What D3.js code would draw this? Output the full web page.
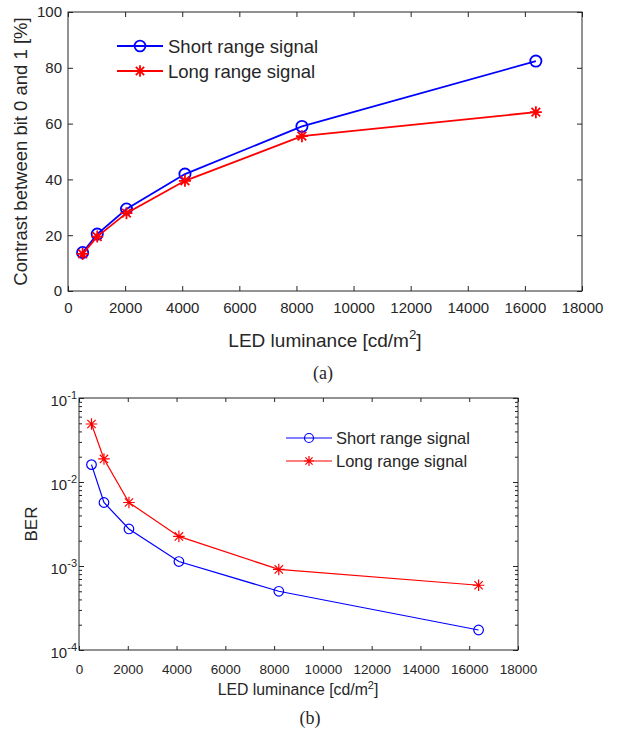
<!DOCTYPE html>
<html>
<head>
<meta charset="utf-8">
<script src="https://cdn.jsdelivr.net/npm/d3@7"></script>
<style>
  body { margin: 0; background: #fff; }
  svg text { font-family: "Liberation Sans", Arial, sans-serif; fill: #262626; }
</style>
</head>
<body>
<div id="drawer"></div>
<script>
// luminance steps (cd/m^2)
var luminance = [512, 1024, 2048, 4096, 8192, 16384];
// (a) contrast between bit 0 and 1 [%]
var contrastShort = [13.8, 20.4, 29.4, 41.9, 59.0, 82.4];
var contrastLong = [13.3, 19.5, 27.9, 39.5, 55.5, 64.1];
// (b) bit error rate
var berShort = [0.0161, 0.0057, 0.00276, 0.00113, 0.00050, 0.000173];
var berLong = [0.049, 0.0188, 0.0057, 0.00225, 0.00091, 0.00059];

var xTicks = [0, 2000, 4000, 6000, 8000, 10000, 12000, 14000, 16000, 18000];
var yTicksA = [0, 20, 40, 60, 80, 100];
var yTicksB = [1e-4, 1e-3, 1e-2, 1e-1];
var seriesNames = ["Short range signal", "Long range signal"];

var W = 618, H = 737;
var axisColor = "#262626";
var blue = "#0000ff", red = "#ff0000";

var svg = d3.select("#drawer").append("svg")
  .attr("width", W).attr("height", H);

function starPath(r) {
  var d = "", a = r * 0.72;
  d += "M" + (-r) + ",0L" + r + ",0";
  d += "M0," + (-r) + "L0," + r;
  d += "M" + (-a) + "," + (-a) + "L" + a + "," + a;
  d += "M" + (-a) + "," + a + "L" + a + "," + (-a);
  return d;
}

function drawMarker(g, type, x, y, color, r, sw) {
  if (type === "o") {
    g.append("circle").attr("cx", x).attr("cy", y).attr("r", r)
      .attr("fill", "none").attr("stroke", color).attr("stroke-width", sw);
  } else {
    g.append("path").attr("d", starPath(r))
      .attr("transform", "translate(" + x + "," + y + ")")
      .attr("fill", "none").attr("stroke", color).attr("stroke-width", sw);
  }
}

function xlabel(g, x, y, size) {
  var t = g.append("text").attr("x", x).attr("y", y)
    .attr("text-anchor", "middle").style("font-size", size + "px");
  t.append("tspan").text("LED luminance [cd/m");
  t.append("tspan").attr("dy", -size * 0.4).style("font-size", (size * 0.7) + "px").text("2");
  t.append("tspan").attr("dy", size * 0.4).text("]");
}

// ---------- (a) ----------
var A = { left: 68, right: 582, top: 12, bottom: 291 };
var xA = d3.scaleLinear().domain([0, 18000]).range([A.left, A.right]);
var yA = d3.scaleLinear().domain([0, 100]).range([A.bottom, A.top]);
var gA = svg.append("g");

gA.append("rect").attr("x", A.left).attr("y", A.top)
  .attr("width", A.right - A.left).attr("height", A.bottom - A.top)
  .attr("fill", "none").attr("stroke", axisColor).attr("stroke-width", 1);

gA.append("g").attr("transform", "translate(0," + A.bottom + ")")
  .call(d3.axisBottom(xA).tickValues(xTicks).tickSize(-5).tickPadding(11).tickFormat(d3.format("d")));
gA.append("g").attr("transform", "translate(0," + A.top + ")")
  .call(d3.axisTop(xA).tickValues(xTicks).tickSize(-5).tickFormat(""));
gA.append("g").attr("transform", "translate(" + A.left + ",0)")
  .call(d3.axisLeft(yA).tickValues(yTicksA).tickSize(-5).tickPadding(6));
gA.append("g").attr("transform", "translate(" + A.right + ",0)")
  .call(d3.axisRight(yA).tickValues(yTicksA).tickSize(-5).tickFormat(""));
gA.selectAll(".domain").remove();
gA.selectAll(".tick line").attr("stroke", axisColor);
gA.selectAll(".tick text").style("font-size", "15px").attr("fill", axisColor)
  .style("font-family", "Liberation Sans, Arial, sans-serif");

var lineA = d3.line().x(function(d) { return xA(d[0]); }).y(function(d) { return yA(d[1]); });
[[contrastShort, blue, "o"], [contrastLong, red, "*"]].forEach(function(s) {
  var pts = luminance.map(function(x, i) { return [x, s[0][i]]; });
  gA.append("path").datum(pts).attr("d", lineA)
    .attr("fill", "none").attr("stroke", s[1]).attr("stroke-width", 1.8);
  pts.forEach(function(p) {
    drawMarker(gA, s[2], xA(p[0]), yA(p[1]), s[1], s[2] === "o" ? 5.6 : 6, 1.8);
  });
});

// legend (a)
[[blue, "o", 46], [red, "*", 71]].forEach(function(s, i) {
  gA.append("line").attr("x1", 117).attr("x2", 163).attr("y1", s[2]).attr("y2", s[2])
    .attr("stroke", s[0]).attr("stroke-width", 1.8);
  drawMarker(gA, s[1], 140, s[2], s[0], s[1] === "o" ? 5.4 : 5.8, 1.8);
  gA.append("text").attr("x", 168).attr("y", s[2] + 7).style("font-size", "18.5px")
    .text(seriesNames[i]);
});

gA.append("text").attr("transform", "translate(27," + ((A.top + A.bottom) / 2) + ") rotate(-90)")
  .attr("text-anchor", "middle").style("font-size", "18.5px")
  .text("Contrast between bit 0 and 1 [%]");
xlabel(gA, 325, 347, 19);
gA.append("text").attr("x", 323).attr("y", 379).attr("text-anchor", "middle")
  .style("font-family", "Liberation Serif, Times New Roman, serif").style("font-size", "18px")
  .text("(a)");

// ---------- (b) ----------
var B = { left: 79, right: 518, top: 398, bottom: 650 };
var xB = d3.scaleLinear().domain([0, 18000]).range([B.left, B.right]);
var yB = d3.scaleLog().domain([1e-4, 1e-1]).range([B.bottom, B.top]);
var gB = svg.append("g");

gB.append("rect").attr("x", B.left).attr("y", B.top)
  .attr("width", B.right - B.left).attr("height", B.bottom - B.top)
  .attr("fill", "none").attr("stroke", axisColor).attr("stroke-width", 1);

gB.append("g").attr("transform", "translate(0," + B.bottom + ")")
  .call(d3.axisBottom(xB).tickValues(xTicks).tickSize(-4).tickPadding(14).tickFormat(d3.format("d")));
gB.append("g").attr("transform", "translate(0," + B.top + ")")
  .call(d3.axisTop(xB).tickValues(xTicks).tickSize(-4).tickFormat(""));

var minorB = [];
yTicksB.slice(0, 3).forEach(function(dec) {
  for (var k = 2; k <= 9; k++) minorB.push(dec * k);
});
gB.append("g").attr("transform", "translate(" + B.left + ",0)")
  .call(d3.axisLeft(yB).tickValues(minorB).tickSize(-3).tickFormat(""));
gB.append("g").attr("transform", "translate(" + B.right + ",0)")
  .call(d3.axisRight(yB).tickValues(minorB).tickSize(-3).tickFormat(""));
gB.append("g").attr("transform", "translate(" + B.left + ",0)")
  .call(d3.axisLeft(yB).tickValues(yTicksB).tickSize(-5).tickFormat(""));
gB.append("g").attr("transform", "translate(" + B.right + ",0)")
  .call(d3.axisRight(yB).tickValues(yTicksB).tickSize(-5).tickFormat(""));
gB.selectAll(".domain").remove();
gB.selectAll(".tick line").attr("stroke", axisColor);
gB.selectAll(".tick text").style("font-size", "13.5px").attr("fill", axisColor)
  .style("font-family", "Liberation Sans, Arial, sans-serif");

// log tick labels with superscript exponent
yTicksB.forEach(function(v) {
  var t = gB.append("text").attr("x", B.left - 2).attr("y", yB(v) + 8)
    .attr("text-anchor", "end").style("font-size", "15px");
  t.append("tspan").text("10");
  t.append("tspan").attr("dy", -7).style("font-size", "11px").text(String(Math.round(Math.log10(v))));
});

var lineB = d3.line().x(function(d) { return xB(d[0]); }).y(function(d) { return yB(d[1]); });
[[berShort, blue, "o"], [berLong, red, "*"]].forEach(function(s) {
  var pts = luminance.map(function(x, i) { return [x, s[0][i]]; });
  gB.append("path").datum(pts).attr("d", lineB)
    .attr("fill", "none").attr("stroke", s[1]).attr("stroke-width", 1.2);
  pts.forEach(function(p) {
    drawMarker(gB, s[2], xB(p[0]), yB(p[1]), s[1], s[2] === "o" ? 4.8 : 5.8, 1.2);
  });
});

// legend (b)
[[blue, "o", 438], [red, "*", 461]].forEach(function(s, i) {
  gB.append("line").attr("x1", 286).attr("x2", 332).attr("y1", s[2]).attr("y2", s[2])
    .attr("stroke", s[0]).attr("stroke-width", 1.2);
  drawMarker(gB, s[1], 309, s[2], s[0], s[1] === "o" ? 4.5 : 5, 1.2);
  gB.append("text").attr("x", 336).attr("y", s[2] + 6).style("font-size", "16.5px")
    .text(seriesNames[i]);
});

gB.append("text").attr("transform", "translate(37," + ((B.top + B.bottom) / 2) + ") rotate(-90)")
  .attr("text-anchor", "middle").style("font-size", "17px").text("BER");
xlabel(gB, 298, 695, 15.8);
gB.append("text").attr("x", 310).attr("y", 724).attr("text-anchor", "middle")
  .style("font-family", "Liberation Serif, Times New Roman, serif").style("font-size", "18px")
  .text("(b)");
</script>
</body>
</html>
